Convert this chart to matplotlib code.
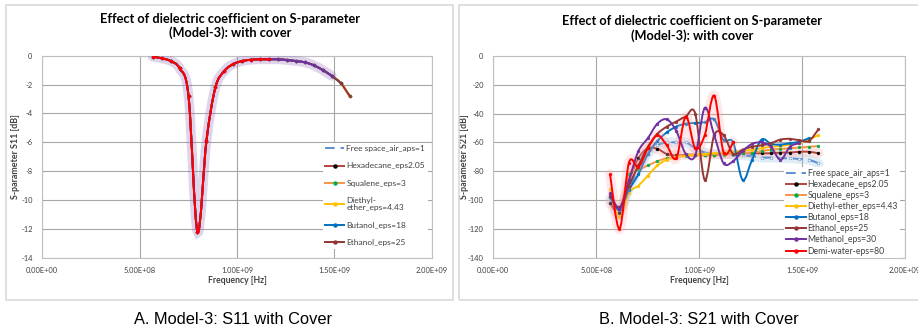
import numpy as np
import matplotlib.pyplot as plt
from matplotlib.path import Path
from matplotlib.patches import PathPatch, Rectangle
from matplotlib.lines import Line2D

plt.rcParams['font.family'] = ['Lato', 'DejaVu Sans']

# frequency sweep (Hz)
freq_hz = [5.67e8, 6.13e8, 6.59e8, 7.05e8, 7.51e8, 7.97e8, 8.43e8, 8.89e8,
           9.35e8, 9.81e8, 1.027e9, 1.073e9, 1.119e9, 1.165e9, 1.211e9,
           1.257e9, 1.303e9, 1.349e9, 1.395e9, 1.441e9, 1.487e9, 1.533e9, 1.579e9]

labels = ['Free space_air_aps=1', 'Hexadecane_eps2.05', 'Squalene_eps=3',
          'Diethyl-ether_eps=4.43', 'Butanol_eps=18', 'Ethanol_eps=25',
          'Methanol_eps=30', 'Demi-water-eps=80']
labels_a = ['Free space_air_aps=1', 'Hexadecane_eps2.05', 'Squalene_eps=3',
            'Diethyl-\nether_eps=4.43', 'Butanol_eps=18', 'Ethanol_eps=25']
line_colors = ['#5b8fd0', '#b2433f', '#f79646', '#ffc000', '#0070c0', '#943634', '#7030a0', '#ff0000']
marker_colors = ['#ffffff', '#000000', '#00b050', '#ffc000', '#0070c0', '#943634', '#7030a0', '#ff0000']

# S11 (all materials nearly identical)
s11_db = [-0.07, -0.18, -0.37, -0.88, -2.8, -12.2, -5.9, -2.2, -1.06, -0.58, -0.37, -0.28,
          -0.25, -0.25, -0.25, -0.3, -0.37, -0.46, -0.67, -1.0, -1.4, -1.9, -2.8]
s11_len = [23, 23, 23, 23, 22, 23, 21, 14]

# S21 per material
s21_free = [-99, -108, -92, -78, -68, -62, -60, -60, -60, -64, -67, -68, -68, -68.5, -69,
            -69.5, -70.5, -70.5, -71, -71, -71.5, -72, -74.5]
s21_hexadecane = [-102, -109, -87, -71, -64, -64.5, -68, -69, -68.5, -68.5, -68.5, -68.5,
                  -68, -68, -67.5, -67.5, -67.5, -67.5, -67, -67, -66.5, -66.5, -67.5]
s21_squalene = [-98, -106, -82, -79, -76, -73, -71, -70, -69.5, -69, -69, -69, -68.5, -68,
                -67.5, -67, -66, -65, -64.5, -64, -63.5, -63, -62.5]
s21_diethyl = [-92, -112, -95, -90, -83, -76, -72, -70, -69, -68.5, -68, -67.5, -67, -66.5,
               -66, -65, -64, -63, -62.5, -61.5, -60.5, -58, -55]
s21_butanol = [-98, -107, -93, -82, -68, -59, -53, -49, -47, -46.5, -46, -44, -58.5, -60,
               -86, -72, -58, -61, -61.5, -60.5, -59.5, -57]
s21_ethanol = [-97, -105, -90, -76, -63, -54, -49, -45.5, -42, -40, -86, -55, -55, -68, -65,
               -63, -62, -60.5, -58, -57.5, -58.5, -59, -51]
s21_methanol = [-95, -106, -86, -66, -57, -47, -44, -52, -68, -69, -36, -55, -74.5, -73,
                -66, -61, -60, -63, -72, -63, -60.5]
s21_water = [-82, -120, -74, -77, -64, -55, -62, -71, -42, -64, -55, -27.5, -67, -60]
s21_all = [s21_free, s21_hexadecane, s21_squalene, s21_diethyl, s21_butanol,
           s21_ethanol, s21_methanol, s21_water]

x_ticks = [0, 5e8, 1e9, 1.5e9, 2e9]
x_ticklabels = ['0.00E+00', '5.00E+08', '1.00E+09', '1.50E+09', '2.00E+09']
y_ticks_a = [0, -2, -4, -6, -8, -10, -12, -14]
y_ticks_b = [0, -20, -40, -60, -80, -100, -120, -140]


def smooth_path(xs, ys):
    # Excel style smoothed line: Catmull-Rom segments as cubic Beziers
    pts = np.column_stack([xs, ys]).astype(float)
    n = len(pts)
    verts = [pts[0]]
    codes = [Path.MOVETO]
    for i in range(n - 1):
        p0 = pts[max(i - 1, 0)]
        p1 = pts[i]
        p2 = pts[i + 1]
        p3 = pts[min(i + 2, n - 1)]
        verts += [p1 + (p2 - p0) / 6, p2 - (p3 - p1) / 6, p2]
        codes += [Path.CURVE4] * 3
    return Path(verts, codes)


def draw_series(ax, xs, ys, k, glow=None, glow_alpha=0.25, z=2):
    path = smooth_path(xs, ys)
    if glow:
        ax.add_patch(PathPatch(path, fill=False, ec=glow, lw=7, alpha=glow_alpha,
                               capstyle='round', zorder=z - 0.5))
    ls = (0, (5, 3)) if k == 0 else '-'
    ax.add_patch(PathPatch(path, fill=False, ec=line_colors[k], lw=1.4, ls=ls, zorder=z))
    ax.plot(xs, ys, ls='none', marker='o', ms=2.0, mfc=marker_colors[k],
            mec=marker_colors[k] if k else line_colors[k], mew=0.4, zorder=z + 0.1)


def handle(k):
    ls = (0, (5, 3)) if k == 0 else '-'
    return Line2D([0], [0], color=line_colors[k], lw=1.4, ls=ls,
                  marker=None if k == 0 else 'o', ms=2.2,
                  mfc=marker_colors[k], mec=marker_colors[k])


def style_axes(ax, yticks, ylabel):
    ax.set_xlim(0, 2e9)
    ax.set_ylim(yticks[-1], yticks[0])
    ax.set_xticks(x_ticks)
    ax.set_xticklabels(x_ticklabels)
    ax.set_yticks(yticks)
    ax.set_yticklabels([str(v) for v in yticks])
    ax.grid(True, color='#a6a6a6', lw=0.8)
    ax.set_axisbelow(True)
    for s in ax.spines.values():
        s.set_color('#bfbfbf')
        s.set_linewidth(0.8)
    ax.tick_params(length=0, labelsize=5.4, labelcolor='#404040')
    ax.tick_params(axis='x', pad=7)
    ax.tick_params(axis='y', pad=7)
    ax.set_xlabel('Frequency [Hz]', fontsize=6.2, fontweight='bold', color='#404040')
    ax.xaxis.set_label_coords(0.5, -0.115)
    ax.xaxis.label.set_verticalalignment('center')
    ax.set_ylabel(ylabel, fontsize=6.4, fontweight='bold', color='#404040')
    ax.yaxis.set_label_coords(-0.07, 0.5)
    ax.yaxis.label.set_verticalalignment('center')


W, H = 918, 333
fig = plt.figure(figsize=(W / 100, H / 100), dpi=100)

fig.add_artist(Rectangle((6 / W, 1 - 300 / H), 447 / W, 295 / H, transform=fig.transFigure,
                         fill=False, ec='#d9d9d9', lw=1.2))
fig.add_artist(Rectangle((459 / W, 1 - 300 / H), 470 / W, 295 / H, transform=fig.transFigure,
                         fill=False, ec='#d9d9d9', lw=1.2))

axA = fig.add_axes([42.3 / W, 1 - 257.7 / H, 389.4 / W, 202 / H])
axB = fig.add_axes([493.3 / W, 1 - 257.7 / H, 411.7 / W, 201.7 / H])

# panel A
for k in range(8):
    n = s11_len[k]
    draw_series(axA, freq_hz[:n], s11_db[:n], k, glow='#9b72c0' if k == 6 else None,
                glow_alpha=0.3, z=2 + k * 0.2)
style_axes(axA, y_ticks_a, 'S-parameter S11 [dB]')
legA = axA.legend([handle(k) for k in range(6)], labels_a, loc='upper left',
                  bbox_to_anchor=(0.72, 0.57), fontsize=6.0, frameon=True, fancybox=False,
                  edgecolor='none', facecolor='white', framealpha=1, labelspacing=1.25,
                  handlelength=2.3, handletextpad=0.25, borderpad=0.3, borderaxespad=0)
for t in legA.get_texts():
    t.set_color('#404040')
    t.set_linespacing(1.0)

# panel B
glows_b = ['#9dc3e6', '#ffaaaa', None, None, None, None, None, '#ffb0b0']
for k in range(8):
    ys = s21_all[k]
    draw_series(axB, freq_hz[:len(ys)], ys, k, glow=glows_b[k], glow_alpha=0.3, z=2 + k * 0.2)
style_axes(axB, y_ticks_b, 'S-parameter S21 [dB]')
axB.yaxis.set_label_coords(-0.069, 0.5)
legB = axB.legend([handle(k) for k in range(8)], labels, loc='lower left',
                  bbox_to_anchor=(0.705, 0.0), fontsize=6.2, frameon=True, fancybox=False,
                  edgecolor='none', facecolor='white', framealpha=1, labelspacing=0.24,
                  handlelength=2.3, handletextpad=0.25, borderpad=0.25, borderaxespad=0)
for t in legB.get_texts():
    t.set_color('#404040')

title = 'Effect of dielectric coefficient on S-parameter\n(Model-3): with cover'
fig.text(230 / W, 1 - 26 / H, title, ha='center', va='center', fontsize=9.2,
         fontweight='bold', linespacing=1.15)
fig.text(691.7 / W, 1 - 28.5 / H, title, ha='center', va='center', fontsize=9.2,
         fontweight='bold', linespacing=1.15)

fig.text(233 / W, 1 - 320 / H, 'A. Model-3: S11 with Cover', ha='center', va='center',
         fontsize=11.8, family='Liberation Sans')
fig.text(698.5 / W, 1 - 320 / H, 'B. Model-3: S21 with Cover', ha='center', va='center',
         fontsize=11.8, family='Liberation Sans')

fig.savefig('out.png', dpi=100, facecolor='white')
